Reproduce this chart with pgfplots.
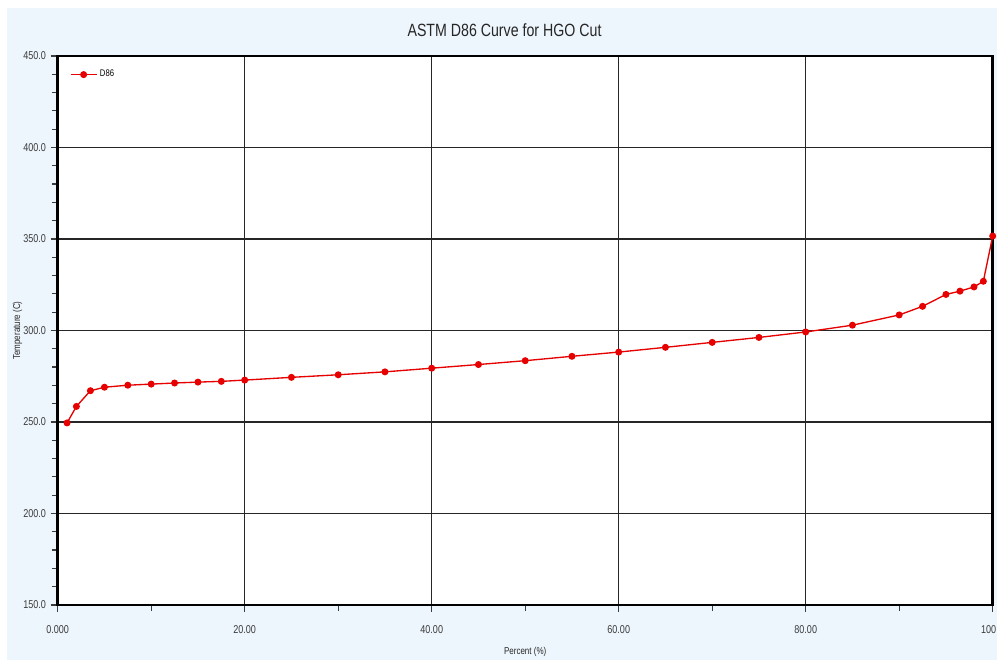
\documentclass[border=0pt]{standalone}
\usepackage{pgfplots}
\pgfplotsset{compat=1.18}
\usepackage{fontspec}
\setmainfont[FakeStretch=0.8]{Liberation Sans}
\definecolor{bgblue}{RGB}{238,246,253}
\definecolor{linered}{RGB}{230,0,0}
\definecolor{tickgray}{RGB}{60,60,60}
\begin{document}
\begin{tikzpicture}[x=0.75pt,y=0.75pt]
\fill[bgblue] (7,0) rectangle (997,652);
\begin{axis}[
  at={(43.275pt,41.25pt)}, anchor=south west,
  scale only axis, width=701.25pt, height=411.75pt,
  xmin=0, xmax=100, ymin=150, ymax=450,
  clip=false,
  axis background/.style={fill=white},
  xtick={0,20,40,60,80,100},
  xticklabels={0.000,20.00,40.00,60.00,80.00,\hspace*{-6pt}100},
  ytick={150,200,250,300,350,400,450},
  yticklabels={150.0,200.0,250.0,300.0,350.0,400.0,450.0},
  minor x tick num=1, minor y tick num=4,
  xtick pos=bottom, ytick pos=left,
  tick align=outside,
  major tick length=5.25pt, minor tick length=4.2pt,
  every tick/.style={tickgray, line width=0.9pt},
  grid=major,
  major grid style={black!85, line width=1pt},
  axis line style={black, line width=1.9pt},
  ticklabel style={font=\fontsize{8.5}{9}\selectfont, text=tickgray},
  xticklabel style={yshift=-7pt},
  xlabel={Percent (\%)},
  ylabel={Temperature (C)},
  label style={font=\fontsize{7.5}{9}\selectfont, text=black!85},
  xlabel style={yshift=-3pt},
  ylabel style={yshift=-6pt},
  legend style={draw=none, fill=none, at={(0,1)}, anchor=north west,
    xshift=6pt, yshift=-6.5pt, font=\fontsize{7.2}{8}\selectfont},
  legend image code/.code={
    \draw[#1] (0pt,0pt) -- (19.5pt,0pt);
    \draw[#1, only marks] plot coordinates {(9.75pt,0pt)};
  },
]
\addplot[color=linered, line width=1pt, mark=*, mark size=2.1pt,
  mark options={fill=linered, draw=linered}]
coordinates {
(1,249.5)(2,258.5)(3.5,267.1)(5,269.0)(7.5,270.1)(10,270.7)(12.5,271.3)
(15,271.8)(17.5,272.2)(20,272.9)(25,274.4)(30,275.8)(35,277.4)(40,279.4)
(45,281.4)(50,283.5)(55,285.9)(60,288.2)(65,290.8)(70,293.5)(75,296.2)
(80,299.2)(85,302.9)(90,308.5)(92.5,313.2)(95,319.7)(96.5,321.5)
(98,323.8)(99,326.9)(100,351.6)
};
\addlegendentry{D86}
\end{axis}
\node[anchor=base, font=\fontsize{13.3}{16}\selectfont, text=black!85] at (504.5,623) {ASTM D86 Curve for HGO Cut};
\pgfresetboundingbox
\path[use as bounding box] (0,0) rectangle (997,660);
\end{tikzpicture}
\end{document}
